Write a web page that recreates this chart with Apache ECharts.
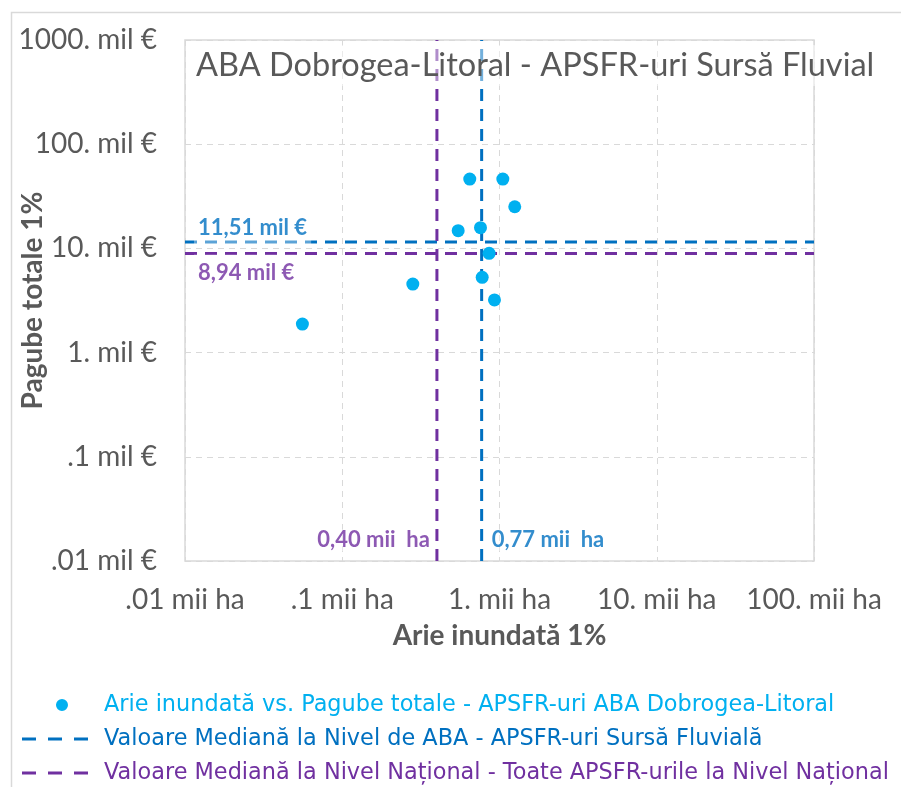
<!DOCTYPE html>
<html><head><meta charset="utf-8">
<script src="https://cdn.jsdelivr.net/npm/echarts@6/dist/echarts.min.js"></script>
<style>html,body{margin:0;padding:0;background:#fff}#c{width:901px;height:787px}</style>
</head><body><div id="c"></div>
<script>
// ---- data ----
const areaValues   = [0.647, 1.05, 1.25, 0.546, 0.757, 0.859, 0.776, 0.929, 0.281, 0.0558];
const damageValues = [46.3, 46.3, 25.1, 14.8, 15.8, 8.97, 5.28, 3.20, 4.55, 1.88];
const medianAbaArea = 0.77, medianAbaDamage = 11.51;
const medianNatArea = 0.40, medianNatDamage = 8.94;
const xRange = [0.01, 100];
const yRange = [0.01, 1000];
const xTickLabels = ['.01 mii ha', '.1 mii ha', '1. mii ha', '10. mii ha', '100. mii ha'];
const yTickLabels = ['.01 mil €', '.1 mil €', '1. mil €', '10. mil €', '100. mil €', '1000. mil €'];
const seriesNames = [
  'Arie inundată vs. Pagube totale - APSFR-uri ABA Dobrogea-Litoral',
  'Valoare Mediană la Nivel de ABA - APSFR-uri Sursă Fluvială',
  'Valoare Mediană la Nivel Național - Toate APSFR-urile la Nivel Național'
];
const medianLabels = { abaDamage: '11,51 mil €', natDamage: '8,94 mil €', natArea: '0,40 mii  ha', abaArea: '0,77 mii  ha' };
const titleText = 'ABA Dobrogea-Litoral - APSFR-uri Sursă Fluvial';
const xAxisTitle = 'Arie inundată 1%';
const yAxisTitle = 'Pagube totale 1%';

// ---- styles ----
const C_DOT = '#00B0F0', C_ABA = '#0070C0', C_NAT = '#7030A0', C_TXT = '#595959', C_GRID = '#D9D9D9';
const F = 'Lato, "Open Sans", sans-serif';
const dashIcon = 'path://M0,0h14v3h-14z M26,0h14v3h-14z M52,0h14v3h-14z';
const dotIcon = 'path://M0,0h0.01v0.01h-0.01z M66,12h-0.01v-0.01h0.01z M34,6a6,6 0 1,0 12,0a6,6 0 1,0 -12,0z';

const chart = echarts.init(document.getElementById('c'), null, { renderer: 'canvas' });
const li = v => Math.round(Math.log10(v));

const option = {
  animation: false,
  backgroundColor: '#fff',
  title: {
    text: titleText, left: 192, top: 45,
    textStyle: { fontFamily: F, fontSize: 32.5, fontWeight: 'normal', color: C_TXT },
    backgroundColor: 'rgba(255,255,255,0.45)', padding: [4, 4]
  },
  grid: { left: 185, top: 40, width: 629, height: 521, show: true, borderColor: C_GRID, borderWidth: 1.5, backgroundColor: 'transparent', outerBoundsMode: 'none', containLabel: false },
  xAxis: {
    type: 'log', logBase: 10, min: xRange[0], max: xRange[1],
    name: xAxisTitle, nameLocation: 'middle', nameGap: 61, nameMoveOverlap: false,
    nameTextStyle: { fontFamily: F, fontSize: 28, fontWeight: 'bold', color: C_TXT },
    axisLine: { show: false }, axisTick: { show: false },
    axisLabel: { margin: 25, fontFamily: F, fontSize: 28, color: C_TXT, formatter: v => xTickLabels[li(v) + 2] },
    splitLine: { show: true, lineStyle: { color: C_GRID, type: [6, 5], width: 1 } },
    minorTick: { show: false }, minorSplitLine: { show: false }
  },
  yAxis: {
    type: 'log', logBase: 10, min: yRange[0], max: yRange[1],
    name: yAxisTitle, nameLocation: 'middle', nameGap: 138, nameMoveOverlap: false,
    nameTextStyle: { fontFamily: F, fontSize: 28, fontWeight: 'bold', color: C_TXT },
    axisLine: { show: false }, axisTick: { show: false },
    axisLabel: { margin: 28, fontFamily: F, fontSize: 28, color: C_TXT, formatter: v => yTickLabels[li(v) + 2] },
    splitLine: { show: true, lineStyle: { color: C_GRID, type: [6, 5], width: 1 } }
  },
  legend: {
    orient: 'vertical', left: 22, top: 694, height: 120, padding: 0, itemWidth: 66, itemHeight: 12, itemGap: 12,
    itemStyle: { borderWidth: 0, opacity: 1 },
    textStyle: { fontFamily: '"DejaVu Sans", sans-serif', fontSize: 22.4, padding: [0, 0, 0, 11] },
    data: [
      { name: seriesNames[0], icon: dotIcon, textStyle: { color: C_DOT } },
      { name: seriesNames[1], icon: dashIcon, textStyle: { color: C_ABA } },
      { name: seriesNames[2], icon: dashIcon, textStyle: { color: C_NAT } }
    ]
  },
  series: [
    {
      name: 'medianABA', type: 'line', symbol: 'none', color: C_ABA, z: 2,
      lineStyle: { color: C_ABA, width: 3, type: [12, 8] },
      data: [[xRange[0], medianAbaDamage], [xRange[1], medianAbaDamage], null, [medianAbaArea, yRange[0]], [medianAbaArea, yRange[1]]],
      connectNulls: false
    },
    {
      name: 'medianNational', type: 'line', symbol: 'none', color: C_NAT, z: 2,
      lineStyle: { color: C_NAT, width: 3, type: [12, 8] },
      data: [[xRange[0], medianNatDamage], [xRange[1], medianNatDamage], null, [medianNatArea, yRange[0]], [medianNatArea, yRange[1]]],
      connectNulls: false
    },
    {
      name: seriesNames[0], type: 'scatter', symbol: 'circle', symbolSize: 13, color: C_DOT, z: 3,
      itemStyle: { color: C_DOT, opacity: 1 },
      data: areaValues.map((x, i) => [x, damageValues[i]])
    },
    // legend-only entries for the median lines (they reuse the line colours)
    { name: seriesNames[1], type: 'scatter', color: C_ABA, itemStyle: { color: C_ABA, opacity: 1 }, data: [] },
    { name: seriesNames[2], type: 'scatter', color: C_NAT, itemStyle: { color: C_NAT, opacity: 1 }, data: [] },
    {
      name: 'labels', type: 'scatter', symbolSize: 0, z: 5, silent: true,
      data: [
        { value: [xRange[0], medianAbaDamage], label: { show: true, formatter: medianLabels.abaDamage, position: 'right', offset: [4, -14], color: C_ABA, padding: [2, 4, 10, 4] } },
        { value: [xRange[0], medianNatDamage], label: { show: true, formatter: medianLabels.natDamage, position: 'right', offset: [4, 19], color: C_NAT, padding: [12, 4, 2, 4] } },
        { value: [medianNatArea, yRange[0]], label: { show: true, formatter: medianLabels.natArea, position: 'left', offset: [-2, -21], color: C_NAT } },
        { value: [medianAbaArea, yRange[0]], label: { show: true, formatter: medianLabels.abaArea, position: 'right', offset: [5, -21], color: C_ABA } }
      ],
      label: { fontFamily: F, fontSize: 22, fontWeight: 'bold', backgroundColor: 'rgba(255,255,255,0.45)' }
    }
  ],
  graphic: [
    { type: 'rect', left: 9, top: 10, shape: { width: 900, height: 800 }, style: { fill: 'none', stroke: C_GRID, lineWidth: 1.5 }, silent: true, z: -10 }
  ]
};
chart.setOption(option);
</script></body></html>
